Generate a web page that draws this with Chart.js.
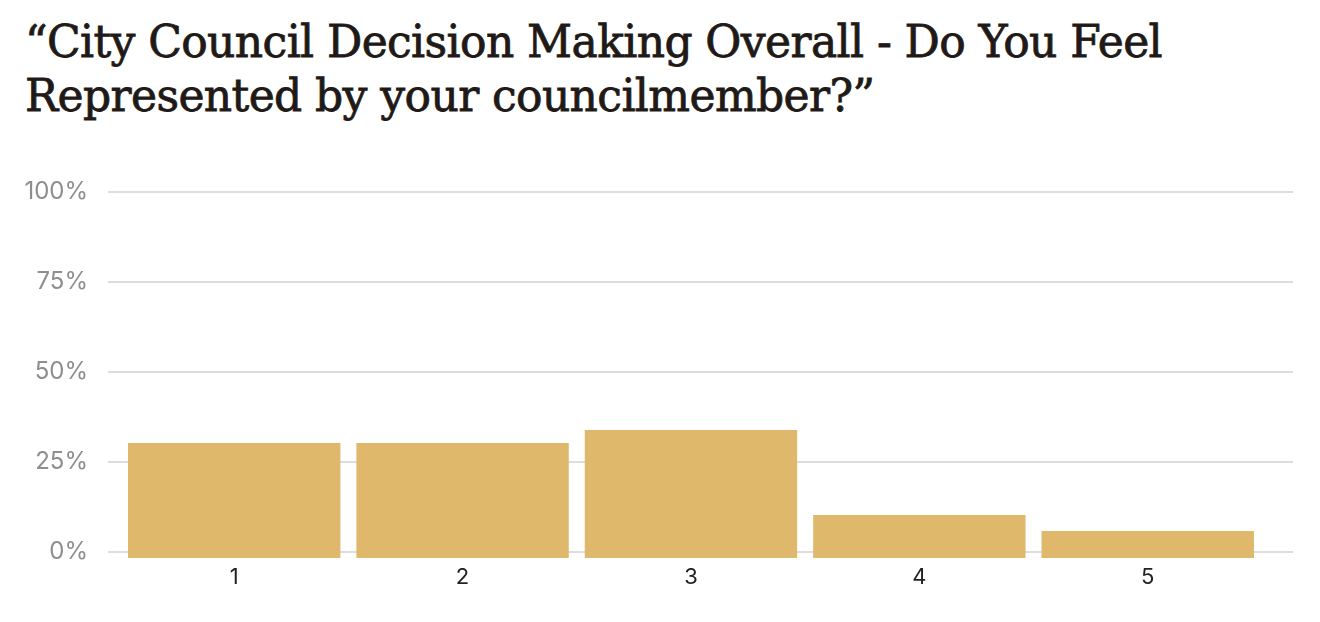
<!DOCTYPE html>
<html>
<head>
<meta charset="utf-8">
<script src="https://cdn.jsdelivr.net/npm/chart.js@4"></script>
<style>
  html, body { margin: 0; padding: 0; background: #fff; }
  #wrap { position: relative; width: 1320px; height: 622px; }
  #title {
    position: absolute; left: 25px; top: 15px;
    font-family: "DejaVu Serif", serif; font-weight: 400;
    font-size: 44px; line-height: 54px; color: #1f1a17;
    -webkit-text-stroke: 0.8px #1f1a17;
    margin: 0; letter-spacing: -0.6px; white-space: nowrap;
  }
  canvas { position: absolute; left: 0; top: 0; }
</style>
</head>
<body>
<div id="wrap">
  <h1 id="title">“City Council Decision Making Overall - Do You Feel<br>Represented by your councilmember?”</h1>
  <canvas id="chart" width="1320" height="622"></canvas>
</div>
<script>
const categories = [1, 2, 3, 4, 5];
const shares = [30.3, 30.3, 33.9, 10.3, 5.8];
const yTicks = [0, 25, 50, 75, 100];

const points = categories.map((c, i) => ({ x: c, y: shares[i] }));

const ctx = document.getElementById('chart').getContext('2d');
const chart = new Chart(ctx, {
  type: 'bar',
  data: {
    datasets: [{
      data: points,
      backgroundColor: '#dfb86c',
      borderWidth: 0,
      base: -1.67,
      clip: false,
      barPercentage: 0.93,
      categoryPercentage: 1
    }]
  },
  options: {
    responsive: false,
    animation: false,
    layout: { padding: { top: 192, right: 27, left: 0, bottom: 0 } },
    plugins: {
      legend: { display: false },
      tooltip: { enabled: false }
    },
    scales: {
      x: {
        type: 'linear',
        offset: false,
        min: 0.5,
        max: 5.636,
        afterBuildTicks: scale => { scale.ticks = categories.map(v => ({ value: v })); },
        afterFit: scale => { scale.height = 70; },
        grid: { display: false, drawTicks: false, offset: false },
        border: { display: false },
        ticks: {
          padding: 12,
          color: '#222',
          font: { family: 'Inter', size: 22 },
          callback: v => String(v)
        }
      },
      y: {
        min: 0,
        max: 100,
        afterBuildTicks: scale => { scale.ticks = yTicks.map(v => ({ value: v })); },
        afterFit: scale => { scale.width = 120; },
        border: { display: false },
        grid: { color: '#dddddd', lineWidth: 2, tickLength: 12, drawTicks: true },
        ticks: {
          padding: 20,
          color: '#8e8e8e',
          font: { family: 'Inter', size: 24 },
          callback: v => v + '%'
        }
      }
    }
  }
});
</script>
</body>
</html>
